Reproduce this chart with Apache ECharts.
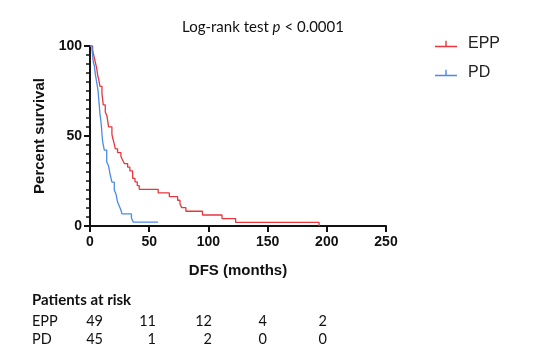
<!DOCTYPE html>
<html>
<head>
<meta charset="utf-8">
<script src="https://cdn.jsdelivr.net/npm/echarts@6/dist/echarts.min.js"></script>
<style>html,body{margin:0;padding:0;background:#fff;}#c{width:550px;height:358px;}</style>
</head>
<body>
<div id="c"></div>
<script>
// Kaplan-Meier step points: [months, percent survival after event]
const eppTimes = [0, 2.2, 2.8, 4.2, 5.6, 6.5, 7.3, 8.4, 10.1, 11.2, 12.9, 14.3, 15.7, 18.5, 19.1, 20, 21.4, 23.3, 26.1, 27.5, 29, 31.8, 33.7, 36, 38, 39.9, 41.6, 57.6, 67, 74, 76, 77.5, 81, 95, 111.5, 123, 193.5];
const eppSurv  = [100, 98, 95.9, 91.8, 87.8, 83.7, 81.6, 77.6, 73.5, 67.3, 63.3, 61.2, 55.1, 51, 49, 46.9, 42.9, 40.8, 38.8, 36.7, 34.7, 32.7, 30.6, 26.5, 24.5, 22.4, 20.4, 18.4, 16.3, 14.3, 12.2, 10.2, 8.2, 6.1, 4.1, 2.0, 0];
const pdTimes  = [0, 1.7, 2.8, 3.7, 4.5, 5.6, 6.7, 7.3, 7.9, 8.4, 9.3, 9.6, 10.1, 10.7, 12.1, 14.1, 15.7, 16.9, 18.5, 20.5, 21.9, 23.3, 24.7, 26.1, 27, 35, 36.5, 57.5];
const pdSurv   = [100, 97.8, 91.1, 88.9, 84.4, 80, 75.6, 71.1, 66.7, 62.2, 57.8, 55.6, 51.1, 46.7, 42.2, 35.6, 33.3, 28.9, 24.4, 20, 17.8, 13.3, 11.1, 8.9, 6.7, 4.4, 2.2, 2.2];

const seriesNames = ['EPP', 'PD'];
const xTicks = [0, 50, 100, 150, 200, 250];
const riskHeader = 'Patients at risk';
const riskEPP = [49, 11, 12, 4, 2];
const riskPD  = [45, 1, 2, 0, 0];

const RED = '#e8373c', BLUE = '#4a8ae8';
const SANS = "'Liberation Sans', Arial, sans-serif";
const chart = echarts.init(document.getElementById('c'), null, {renderer: 'canvas'});

const riskCols = [103, 156, 212, 267, 327];
const graphics = [
  {type: 'text', left: 32, top: 293, style: {text: riskHeader, font: 'bold 15px Lato', fill: '#111'}},
  {type: 'text', left: 32, top: 314, style: {text: seriesNames[0], font: '14.5px Lato', fill: '#111'}},
  {type: 'text', left: 32, top: 332, style: {text: seriesNames[1], font: '14.5px Lato', fill: '#111'}}
];
riskEPP.forEach((v, i) => graphics.push({type: 'text', x: riskCols[i], y: 314, style: {text: String(v), font: '14.5px Lato', fill: '#111', align: 'right', verticalAlign: 'top'}}));
riskPD.forEach((v, i) => graphics.push({type: 'text', x: riskCols[i], y: 332, style: {text: String(v), font: '14.5px Lato', fill: '#111', align: 'right', verticalAlign: 'top'}}));

const legendIcon = 'path://M0,5 L22,5 L22,6.4 L0,6.4 Z M10.3,0 L11.7,0 L11.7,6 L10.3,6 Z';

chart.setOption({
  animation: false,
  backgroundColor: '#fff',
  title: {
    text: '{a|Log-rank test }{b|p}{a| < 0.0001}',
    left: 258, top: 15, textAlign: 'center',
    textStyle: {rich: {
      a: {fontFamily: 'Lato', fontSize: 15, color: '#111', fontWeight: 'normal'},
      b: {fontFamily: 'Lato', fontSize: 15, color: '#111', fontStyle: 'italic', fontWeight: 'normal'}
    }}
  },
  legend: {
    data: seriesNames.map(n => ({name: n, icon: legendIcon})),
    orient: 'vertical', left: 430, top: 31, itemWidth: 22, itemHeight: 7, itemGap: 13,
    textStyle: {fontFamily: SANS, fontSize: 16, color: '#222', padding: [0, 0, 0, 6]}
  },
  grid: {left: 90, right: 164, top: 46, bottom: 132, containLabel: false},
  xAxis: {
    type: 'value', min: 0, max: 250, interval: 50,
    name: 'DFS (months)', nameLocation: 'middle', nameGap: 37,
    nameTextStyle: {fontFamily: SANS, fontWeight: 'bold', fontSize: 15, color: '#111'},
    axisLine: {show: true, onZero: false, lineStyle: {color: '#111', width: 2}},
    axisTick: {show: true, length: 6, lineStyle: {color: '#111', width: 2}},
    axisLabel: {margin: 9, fontFamily: SANS, fontWeight: 'bold', fontSize: 14, color: '#111',
      formatter: v => xTicks.includes(v) ? String(v) : ''},
    splitLine: {show: false}
  },
  yAxis: {
    type: 'value', min: 0, max: 100, interval: 50,
    name: 'Percent survival', nameLocation: 'middle', nameGap: 43,
    nameTextStyle: {fontFamily: SANS, fontWeight: 'bold', fontSize: 15, color: '#111'},
    axisLine: {show: true, lineStyle: {color: '#111', width: 2}},
    axisTick: {show: true, length: 6, lineStyle: {color: '#111', width: 2}},
    minorTick: {show: true, splitNumber: 10, length: 4, lineStyle: {color: '#111', width: 1.5}},
    axisLabel: {margin: 8, fontFamily: SANS, fontWeight: 'bold', fontSize: 14, color: '#111'},
    splitLine: {show: false}
  },
  series: [
    {name: seriesNames[0], type: 'line', step: 'end', showSymbol: false, symbol: 'none', color: RED,
     lineStyle: {color: RED, width: 1.3}, data: eppTimes.map((t, i) => [t, eppSurv[i]])},
    {name: seriesNames[1], type: 'line', step: 'end', showSymbol: false, symbol: 'none', color: BLUE,
     lineStyle: {color: BLUE, width: 1.3}, data: pdTimes.map((t, i) => [t, pdSurv[i]])}
  ],
  graphic: graphics
});
</script>
</body>
</html>
